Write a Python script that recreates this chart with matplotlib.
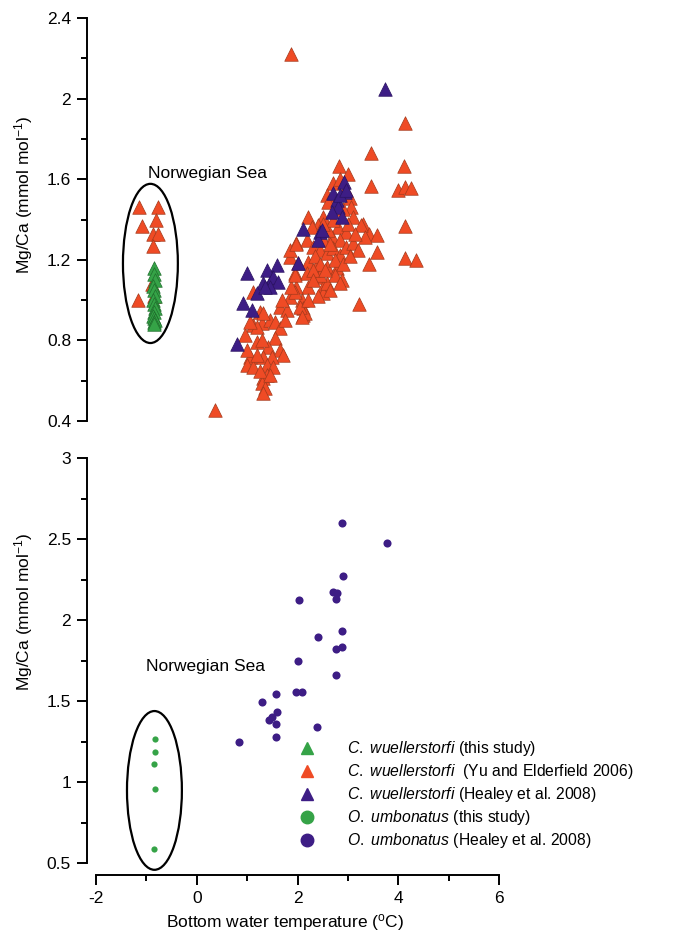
import matplotlib
matplotlib.use("Agg")
import matplotlib.pyplot as plt
from matplotlib.patches import Ellipse
from matplotlib.lines import Line2D

plt.rcParams['font.family'] = ['Liberation Sans', 'DejaVu Sans']
plt.rcParams['mathtext.fontset'] = 'custom'
plt.rcParams['mathtext.rm'] = 'Liberation Sans'
plt.rcParams['mathtext.it'] = 'Liberation Sans:italic'
plt.rcParams['mathtext.default'] = 'regular'
plt.rcParams['axes.unicode_minus'] = False

# C. wuellerstorfi, this study (Norwegian Sea)
cw_this_x = [-0.84, -0.85, -0.83, -0.86, -0.84, -0.82, -0.86, -0.84, -0.83, -0.85,
             -0.86, -0.84, -0.83, -0.85, -0.84]
cw_this_y = [1.16, 1.13, 1.10, 1.07, 1.05, 1.02, 1.00, 0.98, 0.96, 0.94,
             0.92, 0.91, 0.90, 0.89, 0.88]

# C. wuellerstorfi, Yu and Elderfield 2006
cw_yu_x = [-1.14, -0.76, -1.09, -0.80, -0.86, -0.76, -0.86, -0.88, -1.16, -0.84,
           0.36, 1.88, 4.14, 3.45, 4.12, 3.45, 4.00, 4.14, 4.26, 4.14,
           3.30, 3.42, 3.58, 3.57, 3.42, 4.14, 4.36, 3.22,
           2.83, 3.01, 2.71, 2.58, 2.61, 3.04, 3.07, 3.11, 2.21, 2.51,
           2.41, 2.28, 2.81, 2.97, 2.68, 2.84, 3.27, 3.34,
           1.98, 2.18, 2.31, 2.44, 2.58, 2.71, 2.84, 2.97, 3.11,
           1.85, 2.01, 2.21, 2.38, 2.58, 2.78, 2.88,
           1.95, 2.18, 2.41, 2.51, 2.21, 1.98,
           2.08, 2.11, 2.11, 1.86, 1.97,
           1.85, 1.95, 1.88, 2.15, 2.05, 1.95, 2.08,
           2.51, 2.58, 2.44, 2.74, 2.84,
           2.35, 2.50, 2.65, 2.75, 2.90, 2.60, 2.45, 2.30, 2.65, 2.40,
           2.20, 2.30, 2.55, 2.70, 2.90, 2.95, 2.85, 3.00, 3.15, 3.20,
           3.05, 2.50,
           1.12, 1.25, 1.65, 1.12, 1.29, 1.45, 1.55, 1.65, 0.96, 1.19,
           1.55, 1.42, 1.65, 1.72, 1.06, 1.32, 1.49, 0.99, 1.12, 1.39,
           1.52, 1.32, 1.39, 1.29, 1.35, 1.32, 1.32, 1.19, 1.06,
           1.80, 1.75, 1.70, 1.00, 1.20, 1.25, 1.45, 1.30]
cw_yu_y = [1.46, 1.46, 1.37, 1.40, 1.33, 1.33, 1.27, 1.08, 1.00, 1.02,
           0.455, 2.22, 1.877, 1.73, 1.665, 1.566, 1.546, 1.563, 1.555, 1.37,
           1.378, 1.33, 1.323, 1.24, 1.179, 1.207, 1.199, 0.98,
           1.665, 1.626, 1.58, 1.52, 1.488, 1.505, 1.464, 1.414, 1.414, 1.414,
           1.373, 1.364, 1.364, 1.34, 1.315, 1.298, 1.373, 1.315,
           1.282, 1.298, 1.265, 1.249, 1.232, 1.257, 1.224, 1.265, 1.282,
           1.215, 1.183, 1.191, 1.174, 1.166, 1.158, 1.10,
           1.133, 1.133, 1.116, 1.067, 1.067, 1.067,
           1.00, 0.959, 0.926, 1.249, 1.28,
           1.017, 1.042, 1.067, 0.934, 0.967, 1.125, 0.917,
           1.034, 1.083, 1.125, 1.125, 1.083,
           1.22, 1.30, 1.28, 1.20, 1.18, 1.35, 1.18, 1.15, 1.05, 1.02,
           1.00, 1.10, 1.15, 1.40, 1.45, 1.55, 1.60, 1.38, 1.33, 1.25,
           1.22, 1.38,
           1.04, 0.942, 0.967, 0.876, 0.885, 0.901, 0.893, 0.86, 0.827, 0.794,
           0.81, 0.769, 0.752, 0.728, 0.72, 0.72, 0.72, 0.678, 0.67, 0.678,
           0.67, 0.612, 0.628, 0.587, 0.562, 0.537, 0.934, 0.868, 0.893,
           0.95, 0.90, 1.00, 0.75, 0.73, 0.65, 0.63, 0.80]

# C. wuellerstorfi, Healey et al. 2008
cw_healey_x = [3.73, 2.92, 2.94, 2.70, 2.78, 2.81, 2.68, 2.88, 2.84, 2.97,
               2.10, 2.44, 2.41, 2.48, 1.59, 2.00, 1.49, 1.00, 1.39, 1.52,
               1.32, 1.19, 1.62, 0.92, 1.09, 0.79, 1.45, 1.35]
cw_healey_y = [2.047, 1.588, 1.538, 1.533, 1.497, 1.464, 1.439, 1.414, 1.52, 1.546,
               1.353, 1.34, 1.30, 1.348, 1.174, 1.183, 1.108, 1.133, 1.149, 1.116,
               1.083, 1.034, 1.09, 0.984, 0.951, 0.78, 1.067, 1.067]

# O. umbonatus, this study
ou_this_x = [-0.83, -0.83, -0.84, -0.82, -0.84]
ou_this_y = [1.263, 1.187, 1.109, 0.955, 0.586]

# O. umbonatus, Healey et al. 2008
ou_healey_x = [2.875, 3.77, 2.895, 2.71, 2.79, 2.76, 2.03, 2.41, 2.875, 2.76,
               2.89, 2.00, 2.76, 1.98, 2.09, 1.57, 1.29, 1.60, 1.49, 1.44,
               1.57, 2.38, 1.57, 0.84]
ou_healey_y = [2.597, 2.473, 2.272, 2.175, 2.165, 2.13, 2.123, 1.897, 1.932, 1.821,
               1.831, 1.747, 1.66, 1.554, 1.557, 1.541, 1.496, 1.434, 1.403, 1.383,
               1.358, 1.338, 1.28, 1.25]

green = '#35a347'
red = '#ef4b25'
purple = '#3d1d85'
fs = 12.5

W, H = 683, 933
fig = plt.figure(figsize=(W / 100, H / 100), dpi=100)
ax1 = fig.add_axes([96 / W, (H - 421) / H, 403 / W, 403 / H])
ax2 = fig.add_axes([96 / W, (H - 863) / H, 403 / W, 405 / H])

tri = dict(marker='^', s=95, linewidths=0.5, zorder=3)
ax1.scatter(cw_yu_x, cw_yu_y, color=red, edgecolors='#a33a1c', **tri)
ax1.scatter(cw_healey_x, cw_healey_y, color=purple, edgecolors='#2a1260', **tri)
ax1.scatter(cw_this_x, cw_this_y, color=green, edgecolors='#1f6e2c', **tri)

ax2.scatter(ou_healey_x, ou_healey_y, color=purple, s=34, linewidths=0, zorder=3)
ax2.scatter(ou_this_x, ou_this_y, color=green, s=20, linewidths=0, zorder=3)

ax1.add_patch(Ellipse((-0.92, 1.182), 1.09, 0.79, fill=False, lw=1.6,
                      color='black', clip_on=False))
ax2.add_patch(Ellipse((-0.84, 0.948), 1.09, 0.98, fill=False, lw=1.6,
                      color='black', clip_on=False))
ax1.text(-0.97, 1.63, 'Norwegian Sea', fontsize=fs, va='center', ha='left')
ax2.text(-1.01, 1.71, 'Norwegian Sea', fontsize=fs, va='center', ha='left')

for ax in (ax1, ax2):
    ax.set_xlim(-2, 6)
    ax.spines['top'].set_visible(False)
    ax.spines['right'].set_visible(False)
    ax.spines['left'].set_position(('outward', 6.5))
    ax.spines['left'].set_linewidth(1.4)
    ax.tick_params(axis='y', which='major', length=7.5, width=1.4, labelsize=fs, pad=4)
    ax.tick_params(axis='y', which='minor', length=4.5, width=1.4)
    ax.set_ylabel('Mg/Ca (mmol mol$^{-1}$)', fontsize=fs)

ax1.set_ylim(0.4, 2.4)
ax1.set_yticks([0.4, 0.8, 1.2, 1.6, 2.0, 2.4])
ax1.set_yticklabels(['0.4', '0.8', '1.2', '1.6', '2', '2.4'])
ax1.set_yticks([0.6, 1.0, 1.4, 1.8, 2.2], minor=True)
ax1.spines['bottom'].set_visible(False)
ax1.tick_params(axis='x', which='both', bottom=False, labelbottom=False)
ax1.yaxis.set_label_coords(-0.152, 0.56)

ax2.set_ylim(0.5, 3)
ax2.set_yticks([0.5, 1, 1.5, 2, 2.5, 3])
ax2.set_yticklabels(['0.5', '1', '1.5', '2', '2.5', '3'])
ax2.set_yticks([0.75, 1.25, 1.75, 2.25, 2.75], minor=True)
ax2.yaxis.set_label_coords(-0.152, 0.62)
ax2.spines['bottom'].set_position(('outward', 8.6))
ax2.spines['bottom'].set_linewidth(1.4)
ax2.set_xticks([-2, 0, 2, 4, 6])
ax2.set_xticks([-1, 1, 3, 5], minor=True)
ax2.tick_params(axis='x', which='major', length=7.5, width=1.4, labelsize=fs, pad=4)
ax2.tick_params(axis='x', which='minor', length=4.5, width=1.4)
ax2.set_xlabel('Bottom water temperature ($^{o}$C)', fontsize=fs)
ax2.xaxis.set_label_coords(0.47, -0.121)

handles = [
    Line2D([], [], ls='none', marker='^', ms=9, color=green),
    Line2D([], [], ls='none', marker='^', ms=9, color=red),
    Line2D([], [], ls='none', marker='^', ms=9, color=purple),
    Line2D([], [], ls='none', marker='o', ms=9, color=green),
    Line2D([], [], ls='none', marker='o', ms=9, color=purple),
]
labels = [
    r'$\it{C.}$ $\it{wuellerstorfi}$ (this study)',
    r'$\it{C.}$ $\it{wuellerstorfi}$  (Yu and Elderfield 2006)',
    r'$\it{C.}$ $\it{wuellerstorfi}$ (Healey et al. 2008)',
    r'$\it{O.}$ $\it{umbonatus}$ (this study)',
    r'$\it{O.}$ $\it{umbonatus}$ (Healey et al. 2008)',
]
ax2.legend(handles, labels, loc='upper left', bbox_to_anchor=(0.505, 0.305),
           frameon=False, fontsize=11.3, handlelength=1.0, handletextpad=2.05,
           labelspacing=0.25, borderpad=0, borderaxespad=0)

fig.savefig('out.png', dpi=100, facecolor='white')
